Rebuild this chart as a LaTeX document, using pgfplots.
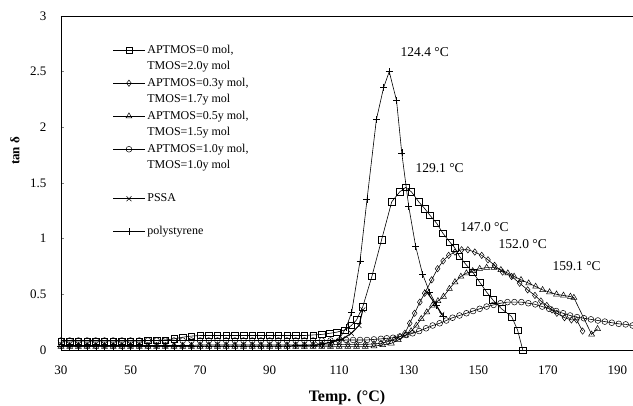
\documentclass[border=0pt]{standalone}
\usepackage{pgfplots}
\pgfplotsset{compat=1.18}
\usepackage{fontspec}
\setmainfont{Liberation Serif}
\begin{document}
\begin{tikzpicture}
\begin{axis}[
  scale only axis, width=572pt, height=334pt,
  xmin=30, xmax=194.5, ymin=0, ymax=3,
  axis x line=box, axis y line=left,
  axis line style={-, line width=0.8pt},
  xtick={30,50,70,90,110,130,150,170,190},
  ytick={0,0.5,1,1.5,2,2.5,3},
  yticklabels={0,0.5,1,1.5,2,2.5,3},
  xtick style={draw=none},
  ytick style={line width=0.4pt},
  tick align=inside, major tick length=3pt,
  /pgf/number format/assume math mode=true,
  tick label style={font=\fontsize{13}{15}\selectfont},
  xticklabel style={yshift=-12pt},
  yticklabel style={xshift=-11pt},
  xlabel={\textbf{Temp. (°C)}},
  ylabel={\textbf{tan δ}},
  every axis x label/.style={at={(axis description cs:0.5,0)}, anchor=center, yshift=-48pt, font=\fontsize{16}{18}\selectfont},
  every axis y label/.style={at={(axis description cs:0,0.596)}, anchor=center, rotate=90, yshift=46pt, font=\fontsize{13}{15}\selectfont},
  unbounded coords=jump,
  legend style={draw=none, fill=none, at={(0.088,0.925)}, anchor=north west,
    font=\fontsize{12}{14}\selectfont, row sep=0.5pt, inner sep=1pt,
    nodes={text height=9pt, text depth=3pt}},
  legend cell align=left,
  legend image code/.code={\draw[mark repeat=2,mark phase=2,#1] plot coordinates {(0cm,0cm) (0.56cm,0cm) (1.12cm,0cm)};},
  every axis plot/.append style={black, line width=0.6pt, mark options={fill=white, solid, line width=0.5pt}},
]
\coordinate (LL) at (rel axis cs:0,0);
% APTMOS=0
\addplot[mark=square, mark size=3.2pt] coordinates {
(30,0.08)(32.5,0.08)(35,0.08)(37.5,0.08)(40,0.08)(42.5,0.08)(45,0.08)(47.5,0.08)(50,0.08)(52.5,0.08)(55,0.085)(57.5,0.085)(60,0.09)(62.5,0.1)(65,0.115)(67.5,0.125)(70,0.13)(72.5,0.13)(75,0.13)(77.5,0.13)(80,0.13)(82.5,0.13)(85,0.13)(87.5,0.13)(90,0.13)(92.5,0.13)(95,0.13)(97.5,0.13)(100,0.13)(102.5,0.135)(105,0.14)(107.3,0.15)(109.3,0.16)(111.6,0.18)(113.5,0.22)(115,0.27)(116.8,0.39)(119.4,0.66)(122.2,0.99)(125.1,1.33)(127.4,1.42)(129.1,1.46)(130.8,1.42)(132.9,1.33)(134.6,1.27)(136.1,1.21)(138,1.14)(139.8,1.05)(141.8,0.97)(143.2,0.92)(144.6,0.84)(146.4,0.77)(148.4,0.70)(150.4,0.61)(152.4,0.52)(154.2,0.45)(156.7,0.37)(159.6,0.30)(161.3,0.18)(162.8,0.0)};
\addlegendentry{APTMOS=0 mol,}
\addlegendimage{empty legend}
\addlegendentry{TMOS=2.0y mol}
% APTMOS=0.3
\addplot[mark=diamond, mark size=3.2pt] coordinates {
(30,0.04)(32.5,0.04)(35,0.04)(37.5,0.04)(40,0.04)(42.5,0.04)(45,0.04)(47.5,0.04)(50,0.04)(52.5,0.04)(55,0.04)(57.5,0.04)(60,0.04)(62.5,0.04)(65,0.04)(67.5,0.04)(70,0.045)(72.5,0.045)(75,0.045)(77.5,0.045)(80,0.045)(82.5,0.045)(85,0.045)(87.5,0.045)(90,0.045)(92.5,0.045)(95,0.045)(97.5,0.045)(100,0.045)(102.5,0.045)(105,0.045)(107.5,0.045)(110,0.05)(112.5,0.05)(115,0.05)(117.5,0.05)(120,0.055)(122,0.06)(124,0.075)(126,0.1)(127.5,0.12)(128.9,0.15)(130.3,0.24)(131.7,0.33)(133.2,0.43)(134.6,0.51)(136.6,0.63)(138.3,0.73)(139.9,0.8)(141.5,0.85)(143.3,0.88)(145.2,0.9)(147,0.9)(149,0.88)(151,0.85)(152.8,0.81)(154.7,0.76)(157,0.7)(159.6,0.66)(161.9,0.6)(164.2,0.54)(166.3,0.49)(168,0.44)(169.7,0.4)(171.2,0.36)(172.6,0.33)(174.8,0.29)(176.8,0.27)(178.3,0.27)(180,0.17)};
\addlegendentry{APTMOS=0.3y mol,}
\addlegendimage{empty legend}
\addlegendentry{TMOS=1.7y mol}
% APTMOS=0.5
\addplot[mark=triangle, mark size=3.4pt] coordinates {
(30,0.03)(32.5,0.03)(35,0.03)(37.5,0.03)(40,0.03)(42.5,0.03)(45,0.03)(47.5,0.03)(50,0.03)(52.5,0.03)(55,0.03)(57.5,0.03)(60,0.03)(62.5,0.03)(65,0.03)(67.5,0.03)(70,0.03)(72.5,0.03)(75,0.03)(77.5,0.03)(80,0.03)(82.5,0.03)(85,0.03)(87.5,0.03)(90,0.03)(92.5,0.03)(95,0.03)(97.5,0.03)(100,0.03)(102.5,0.03)(105,0.03)(107.5,0.03)(110,0.03)(112.5,0.03)(115,0.03)(117.5,0.03)(120,0.035)(122.5,0.045)(125,0.06)(127,0.09)(129,0.13)(130.7,0.17)(132.2,0.22)(133.6,0.28)(135.2,0.34)(136.8,0.4)(138.4,0.44)(140,0.48)(141.7,0.55)(143.3,0.61)(145,0.66)(146.6,0.69)(148.4,0.71)(150.4,0.73)(152.4,0.74)(154.5,0.74)(156.5,0.72)(158.5,0.69)(160.3,0.66)(162.3,0.63)(164.5,0.6)(166.5,0.57)(168.5,0.54)(170.5,0.52)(172.5,0.5)(174.5,0.49)(176.5,0.48)(177.5,0.47)(182.6,0.14)(184.3,0.19)};
\addlegendentry{APTMOS=0.5y mol,}
\addlegendimage{empty legend}
\addlegendentry{TMOS=1.5y mol}
% APTMOS=1.0
\addplot[mark=o, mark size=2.9pt] coordinates {
(30,0.085)(32.5,0.085)(35,0.085)(37.5,0.085)(40,0.085)(42.5,0.085)(45,0.085)(47.5,0.085)(50,0.085)(52.5,0.085)(55,0.085)(57.5,0.085)(60,0.085)(62.5,0.085)(65,0.085)(67.5,0.085)(70,0.085)(72.5,0.085)(75,0.085)(77.5,0.085)(80,0.085)(82.5,0.085)(85,0.085)(87.5,0.085)(90,0.085)(92.5,0.085)(95,0.085)(97.5,0.085)(100,0.085)(102.5,0.085)(105,0.085)(107.5,0.085)(110,0.085)(112,0.09)(114,0.09)(116,0.09)(118,0.09)(120,0.095)(122,0.1)(123.7,0.105)(125.5,0.11)(127.4,0.12)(129.3,0.135)(131.1,0.15)(133,0.17)(135,0.195)(136.9,0.22)(138.9,0.24)(140.8,0.265)(142.6,0.29)(144.6,0.31)(146.6,0.33)(148.5,0.35)(150.4,0.37)(152.4,0.39)(154.4,0.405)(156.4,0.42)(158.4,0.43)(160.4,0.43)(162.4,0.43)(164.4,0.42)(166.4,0.41)(168.4,0.39)(170.4,0.37)(172.4,0.35)(174.4,0.33)(176.4,0.31)(178.4,0.295)(180.4,0.285)(182.4,0.275)(184.4,0.265)(186.4,0.255)(188.4,0.245)(190.4,0.235)(192.4,0.23)(194.4,0.22)};
\addlegendentry{APTMOS=1.0y mol,}
\addlegendimage{empty legend}
\addlegendentry{TMOS=1.0y mol}
\addlegendimage{empty legend}
\addlegendentry{\strut}
% PSSA
\addplot[mark=x, mark size=3.5pt, line width=1pt] coordinates {
(104,0.05)(108,0.07)(111,0.1)(113.5,0.15)(115.7,0.22)(116.8,0.36)(126,nan)(135.2,0.52)(137.5,0.42)(139.5,0.32)};
\addlegendentry{PSSA}
\addlegendimage{empty legend}
\addlegendentry{\strut}
% polystyrene
\addplot[mark=+, mark size=3.5pt] coordinates {
(30,0.03)(32.5,0.03)(35,0.03)(37.5,0.03)(40,0.03)(42.5,0.03)(45,0.03)(47.5,0.03)(50,0.03)(52.5,0.03)(55,0.03)(57.5,0.03)(60,0.03)(62.5,0.03)(65,0.03)(67.5,0.03)(70,0.035)(72.5,0.035)(75,0.035)(77.5,0.035)(80,0.035)(82.5,0.035)(85,0.035)(87.5,0.035)(90,0.035)(92.5,0.035)(95,0.035)(97.5,0.04)(100,0.04)(102.5,0.045)(105,0.05)(107.5,0.07)(110,0.1)(112,0.2)(113.6,0.34)(116,0.8)(118,1.35)(120.7,2.07)(122.8,2.36)(124.4,2.5)(126.5,2.24)(128,1.77)(130,1.29)(132,0.93)(134,0.68)(136,0.52)(138,0.4)(140,0.3)};
\addlegendentry{polystyrene}
\node[font=\fontsize{13.5}{15}\selectfont] at (axis cs:134.6,2.68) {124.4 °C};
\node[font=\fontsize{13.5}{15}\selectfont] at (axis cs:138.9,1.63) {129.1 °C};
\node[font=\fontsize{13.5}{15}\selectfont] at (axis cs:151.8,1.10) {147.0 °C};
\node[font=\fontsize{13.5}{15}\selectfont] at (axis cs:162.8,0.95) {152.0 °C};
\node[font=\fontsize{13.5}{15}\selectfont] at (axis cs:178.3,0.75) {159.1 °C};
\end{axis}
\pgfresetboundingbox
\path (LL) ++(-61pt,-56pt) rectangle ++(633pt,406pt);
\end{tikzpicture}
\end{document}
